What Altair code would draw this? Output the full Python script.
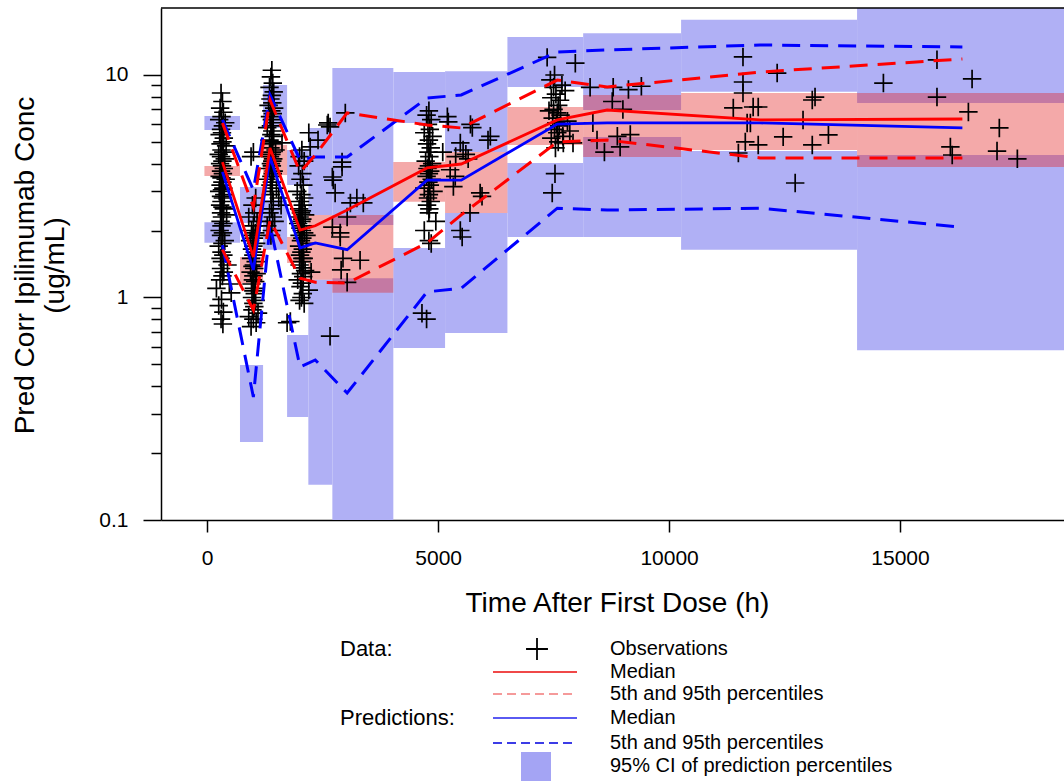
import altair as alt
import pandas as pd

FONT = "Liberation Sans"
PLUS = "M-1,0L1,0M0,-1L0,1"

# ---------------- data ----------------
# bins of the VPC (time after first dose, h)
bin_lo = [-60, 710, 1210, 1730, 2190, 2710, 4030, 5150, 6500, 8140, 10260, 14070]
bin_hi = [710, 1210, 1730, 2190, 2710, 4030, 5150, 6500, 8140, 10260, 14070, 19000]
# 95% CI of the predicted 95th percentile
p95_ci_lo = [5.66, 2.16, 5.78, 3.20, 2.35, 2.12, 6.09, 4.51, 8.83, 6.96, 8.40, 7.48]
p95_ci_hi = [6.54, 3.14, 9.02, 4.60, 5.78, 10.75, 10.31, 10.4, 14.8, 15.4, 17.7, 25.0]
# 95% CI of the predicted median
p50_ci_lo = [3.52, 1.16, 3.55, 1.43, 1.20, 1.05, 2.69, 2.40, 4.85, 4.28, 4.60, 3.86]
p50_ci_hi = [3.90, 1.52, 4.85, 1.87, 2.35, 2.35, 4.06, 4.51, 7.18, 8.13, 8.30, 8.30]
# 95% CI of the predicted 5th percentile
p05_ci_lo = [1.76, 0.224, 1.64, 0.290, 0.144, 0.05, 0.593, 0.692, 1.87, 1.87, 1.64, 0.58]
p05_ci_hi = [2.18, 0.497, 2.74, 0.678, 1.20, 1.22, 1.67, 2.40, 4.02, 5.27, 4.55, 4.37]

# percentile lines
line_time = [330, 1000, 1360, 2010, 2340, 3030, 4760, 5500, 7580, 8660, 11970, 16350]
obs_p50 = [4.06, 1.52, 4.70, 2.01, 2.10, 2.47, 3.82, 3.98, 6.28, 6.96, 6.28, 6.34]
obs_p95 = [6.09, 2.55, 7.72, 3.66, 4.37, 6.75, 5.96, 5.78, 9.49, 8.83, 10.31, 11.80]
obs_p05 = [1.64, 0.879, 2.23, 1.22, 1.17, 1.16, 1.76, 2.35, 5.00, 5.10, 4.24, 4.24]
pred_p50 = [3.67, 1.33, 4.28, 1.67, 1.76, 1.64, 3.37, 3.37, 6.02, 6.09, 6.09, 5.78]
pred_p95 = [6.28, 3.04, 8.13, 4.15, 4.28, 4.28, 7.88, 8.13, 12.69, 12.95, 13.64, 13.36]
pred_p05 = [1.72, 0.357, 2.12, 0.487, 0.524, 0.372, 1.06, 1.10, 2.52, 2.47, 2.52, 2.07]

# observations
c1_t = [300, 330, 280, 350, 310, 260, 390, 340, 300, 320, 270, 360, 330, 290, 410, 310, 350, 250,
        300, 380, 330, 280, 320, 360, 300, 340, 270, 310, 400, 330, 290, 350, 320, 260, 370, 300,
        340, 310, 280, 330, 360, 300, 420, 320, 290, 350, 310, 270, 340, 300, 380, 330, 250, 310,
        350, 290, 320, 440, 300, 360, 330, 280, 480, 200, 520, 310, 250, 350, 300, 340]
c1_c = [8.3, 7.6, 7.1, 6.8, 6.5, 6.3, 6.1, 5.9, 5.7, 5.5, 5.4, 5.2, 5.0, 4.9, 4.8, 4.6, 4.5, 4.4,
        4.3, 4.2, 4.1, 4.0, 3.9, 3.8, 3.7, 3.6, 3.5, 3.45, 3.4, 3.3, 3.2, 3.1, 3.05, 3.0, 2.9, 2.85,
        2.8, 2.7, 2.6, 2.55, 2.5, 2.4, 2.35, 2.3, 2.2, 2.15, 2.1, 2.0, 1.95, 1.9, 1.8, 1.75, 1.7, 1.6,
        1.55, 1.5, 1.45, 1.4, 1.35, 1.3, 1.25, 1.2, 1.15, 1.1, 1.05, 0.98, 0.92, 0.86, 0.80, 0.76]
c2_t = [1000, 950, 1050, 980, 1020, 900, 1080, 1000, 960, 1040, 990, 1010, 930, 1060, 1000, 970,
        1030, 1000, 950, 1050, 1010, 980, 1020, 940, 1070, 1000, 990, 1040, 960, 1010, 1000, 1030,
        970, 1050, 1000, 1020, 980, 1100, 900, 1000, 1060, 950]
c2_c = [4.5, 4.3, 2.8, 2.6, 2.4, 2.3, 2.2, 2.1, 2.0, 1.95, 1.9, 1.85, 1.8, 1.75, 1.7, 1.65, 1.6,
        1.55, 1.5, 1.45, 1.4, 1.38, 1.35, 1.3, 1.28, 1.25, 1.2, 1.18, 1.15, 1.1, 1.07, 1.04, 1.0,
        0.97, 0.94, 0.91, 0.88, 0.85, 0.82, 0.80, 0.77, 0.74]
c3_t = [1400, 1380, 1420, 1350, 1440, 1400, 1370, 1410, 1330, 1450, 1390, 1420, 1360, 1400, 1430,
        1380, 1300, 1410, 1390, 1440, 1350, 1400, 1420, 1370, 1480, 1400, 1390, 1360, 1430, 1410,
        1380, 1400, 1350, 1440, 1420, 1390, 1280, 1400, 1370, 1500, 1410, 1380, 1550, 1430, 1600,
        1390, 1350, 1420, 1460, 1300, 1400, 1380]
c3_c = [10.5, 9.8, 9.2, 8.8, 8.4, 8.1, 7.8, 7.5, 7.3, 7.1, 6.9, 6.7, 6.5, 6.3, 6.1, 5.9, 5.8, 5.6,
        5.4, 5.3, 5.1, 5.0, 4.9, 4.7, 4.6, 4.5, 4.4, 4.3, 4.2, 4.1, 4.0, 3.9, 3.8, 3.7, 3.6, 3.5,
        3.4, 3.3, 3.2, 3.1, 3.0, 2.9, 2.8, 2.7, 2.6, 2.5, 2.4, 2.3, 2.2, 2.1, 2.0, 1.9]
c4_t = [2050, 2000, 2100, 1980, 2060, 2020, 2080, 1950, 2040, 2100, 2010, 2070, 1990, 2050, 2030,
        2120, 2000, 2060, 2040, 1970, 2080, 2020, 2050, 2100, 2000, 2060, 2030, 2150, 1990, 2070,
        2040, 2010, 2090, 2050, 2000, 2060, 2120, 2030, 2080, 1960, 2050, 2020, 2200, 2070, 2040,
        2000, 2100, 2060, 2150, 2250]
c4_c = [4.6, 4.3, 4.1, 3.9, 3.6, 3.4, 3.2, 3.0, 2.9, 2.8, 2.7, 2.6, 2.5, 2.45, 2.4, 2.35, 2.3,
        2.25, 2.2, 2.15, 2.1, 2.05, 2.0, 1.95, 1.9, 1.85, 1.8, 1.75, 1.7, 1.65, 1.6, 1.55, 1.5,
        1.45, 1.4, 1.36, 1.32, 1.28, 1.24, 1.2, 1.16, 1.12, 1.08, 1.04, 1.0, 0.97, 0.94, 1.5, 1.9, 1.3]
s1_t = [2660, 2990, 2920, 2730, 3100, 3380, 2880, 2940, 3310, 3030, 2660, 1730, 2620, 3030, 2880,
        2770, 2600, 2710, 1800, 1620, 2710, 2920, 3240, 2200, 2230, 2400, 2900]
s1_c = [5.84, 6.75, 3.86, 3.37, 2.66, 2.66, 1.95, 1.50, 1.47, 1.17, 0.67, 0.77, 6.09, 2.30, 1.87,
        2.95, 5.96, 3.48, 0.78, 4.95, 2.07, 4.06, 2.80, 5.5, 4.75, 5.1, 1.33]
c5_t = [4800, 4750, 4850, 4780, 4820, 4700, 4880, 4800, 4760, 4840, 4790, 4810, 4730, 4870, 4800,
        4770, 4830, 4800, 4750, 4860, 4790, 4820, 4700, 4900, 4800, 4780, 4840, 4760, 4810, 4800,
        4950, 4700, 4800, 4850, 4650, 4750]
c5_c = [6.9, 6.6, 6.3, 6.0, 5.7, 5.5, 5.3, 5.1, 4.9, 4.7, 4.5, 4.3, 4.1, 4.0, 3.9, 3.8, 3.7, 3.6,
        3.5, 3.4, 3.3, 3.2, 3.1, 3.0, 2.9, 2.8, 2.7, 2.6, 2.5, 2.4, 2.2, 2.0, 1.8, 1.75, 0.85, 0.80]
s2_t = [5200, 5700, 6130, 5480, 5540, 5260, 5330, 5910, 5690, 5480, 5220, 5740, 6080, 5370, 5950,
        5520, 5600, 5650, 5100, 5380]
s2_c = [6.5, 6.0, 5.3, 4.95, 4.6, 3.75, 3.15, 2.95, 2.4, 2.0, 6.15, 5.8, 5.1, 3.5, 2.85, 1.87,
        4.4, 4.2, 4.5, 4.3]
c6_t = [7360, 7970, 7430, 7640, 7580, 7580, 7710, 7920, 7530, 7470, 7500, 7550, 7450, 7600, 7500,
        7650, 7480, 7560, 7620, 7520, 7700, 7450, 7600, 7800, 7400, 7540, 7680, 7520, 7750, 7850]
c6_c = [12.0, 11.3, 9.5, 7.7, 6.75, 5.5, 4.95, 4.95, 3.6, 2.95, 8.8, 8.2, 7.9, 7.3, 7.0, 6.6, 6.4,
        6.1, 5.9, 5.7, 5.3, 5.2, 5.0, 6.2, 6.9, 4.7, 9.0, 10.0, 8.5, 5.6]
s3_t = [8290, 8790, 9120, 8770, 8440, 8880, 9160, 8940, 8600, 9400, 8350, 9000,
        11600, 11600, 11600, 11930, 12340, 11760, 11650, 11930, 12470, 12900, 13100, 13160, 13100,
        13450, 12730, 11390, 11820, 11690, 11500,
        14640, 15800, 15800, 16560, 16480, 16090, 16130, 17150, 17100, 17540]
s3_c = [8.8, 8.8, 8.6, 7.6, 5.1, 5.3, 5.4, 4.75, 4.5, 8.9, 6.1, 7.0,
        12.05, 9.3, 8.3, 7.18, 10.2, 6.09, 5.0, 4.85, 5.27, 6.28, 7.72, 7.96, 4.85,
        5.38, 3.27, 7.11, 7.18, 6.09, 4.46,
        9.2, 11.7, 7.96, 9.6, 6.82, 4.75, 4.37, 5.78, 4.55, 4.2]

obs_time = c1_t + c2_t + c3_t + c4_t + s1_t + c5_t + s2_t + c6_t + s3_t
obs_conc = c1_c + c2_c + c3_c + c4_c + s1_c + c5_c + s2_c + c6_c + s3_c

legend_rows = ["Observations", "Median", "5th and 95th percentiles", "Median",
               "5th and 95th percentiles", "95% CI of prediction percentiles"]

# ---------------- tables ----------------
pi_rows = []
for i in range(len(bin_lo)):
    pi_rows.append({"t0": bin_lo[i], "t1": bin_hi[i], "lo": p95_ci_lo[i], "hi": p95_ci_hi[i]})
    pi_rows.append({"t0": bin_lo[i], "t1": bin_hi[i], "lo": p05_ci_lo[i], "hi": p05_ci_hi[i]})
df_pi = pd.DataFrame(pi_rows)
df_med = pd.DataFrame({"t0": bin_lo, "t1": bin_hi, "lo": p50_ci_lo, "hi": p50_ci_hi})

line_rows = []
for src, stat, arr in [("obs", "p50", obs_p50), ("obs", "p95", obs_p95), ("obs", "p05", obs_p05),
                       ("pred", "p50", pred_p50), ("pred", "p95", pred_p95), ("pred", "p05", pred_p05)]:
    for t, v in zip(line_time, arr):
        line_rows.append({"time": t, "conc": v, "src": src, "stat": stat})
df_lines = pd.DataFrame(line_rows)
df_obs = pd.DataFrame({"time": obs_time, "conc": obs_conc})
one = pd.DataFrame({"k": [0]})

# ---------------- scales / axes ----------------
W, H = 903, 512
x_scale = alt.Scale(domain=[-1000, 18550], nice=False, zero=False)
y_scale = alt.Scale(type="log", domain=[0.1, 20], nice=False)
Y_TICKS = [0.1, 0.2, 0.3, 0.4, 0.5, 0.6, 0.7, 0.8, 0.9, 1, 2, 3, 4, 5, 6, 7, 8, 9, 10]

x_axis = alt.Axis(
    title="Time After First Dose (h)", values=[0, 5000, 10000, 15000], format="d", grid=False,
    domainColor="black", domainWidth=1.5, tickColor="black", tickWidth=1.5, tickSize=12,
    labelFontSize=21, labelColor="black", labelPadding=15, labelFont=FONT,
    titleFont=FONT, titleFontSize=28, titleFontWeight="normal", titleColor="black",
    titleX=456, titleY=83, titleBaseline="middle", titleAlign="center")
y_axis = alt.Axis(
    title=["Pred Corr Ipilimumab Conc", "(ug/mL)"], values=Y_TICKS, grid=False,
    labelExpr="datum.value == 0.1 ? '0.1' : datum.value == 1 ? '1' : datum.value == 10 ? '10' : ''",
    labelOverlap=False, domainColor="black", domainWidth=1.5, tickColor="black", tickWidth=1.5,
    tickSize={"condition": {"test": "datum.value == 0.1 || datum.value == 1 || datum.value == 10",
                            "value": 18}, "value": 10},
    labelFontSize=21, labelColor="black", labelPadding=15, labelFont=FONT,
    titleFont=FONT, titleFontSize=28, titleFontWeight="normal", titleColor="black",
    titleAngle=270, titleX=-150, titleY=257, titleBaseline="top", titleAlign="center",
    titleLineHeight=30)


def X(f):
    return alt.X(f, type="quantitative", scale=x_scale, axis=x_axis)


def Y(f):
    return alt.Y(f, type="quantitative", scale=y_scale, axis=y_axis)


blue_rect = alt.Chart(df_pi).mark_rect(color="#b0b0f5", clip=True).encode(
    x=X("t0"), x2="t1", y=Y("hi"), y2="lo")
pink_rect = alt.Chart(df_med).mark_rect(color="#e42828", opacity=0.4, clip=True).encode(
    x=X("t0"), x2="t1", y=Y("hi"), y2="lo")
points = alt.Chart(df_obs).mark_point(shape=PLUS, filled=False, color="black", strokeWidth=1.7,
                                      size=340, opacity=1, clip=True).encode(x=X("time"), y=Y("conc"))


def line_layer(src, med, color):
    flt = "datum.src == '%s' && datum.stat %s 'p50'" % (src, "==" if med else "!=")
    if med:
        mk = alt.Chart(df_lines).transform_filter(flt).mark_line(color=color, strokeWidth=2.8, clip=True)
    else:
        mk = alt.Chart(df_lines).transform_filter(flt).mark_line(color=color, strokeWidth=3,
                                                                 strokeDash=[18, 10], clip=True)
    return mk.encode(x=X("time"), y=Y("conc"), detail="stat:N", order="time:Q")


top_rule = alt.Chart(one).mark_rule(color="black", strokeWidth=1.5).encode(
    x=alt.value(0), x2=alt.value(W), y=alt.value(0))


def ltext(txt, x, y, size=20):
    return alt.Chart(one).mark_text(text=txt, align="left", baseline="middle", fontSize=size,
                                    font=FONT, color="black").encode(x=alt.value(x), y=alt.value(y))


def lrule(y, color, dash=None):
    kw = {"color": color, "strokeWidth": 2.2}
    if dash:
        kw["strokeDash"] = dash
    return alt.Chart(one).mark_rule(**kw).encode(x=alt.value(332), x2=alt.value(416), y=alt.value(y))


rows_y = [641, 664, 686, 710, 735, 758]
legend = [
    ltext("Data:", 179, rows_y[0], 22),
    ltext("Predictions:", 179, rows_y[3], 22),
    alt.Chart(one).mark_point(shape=PLUS, filled=False, color="black", strokeWidth=1.8, size=480,
                              opacity=1).encode(x=alt.value(376), y=alt.value(rows_y[0])),
    lrule(rows_y[1], "#f04848"),
    lrule(rows_y[2], "#f59a9a", [9, 5]),
    lrule(rows_y[3], "#5a5af2"),
    lrule(rows_y[4], "#3c3ce6", [9, 5]),
    alt.Chart(one).mark_rect(color="#a4a4f4").encode(
        x=alt.value(360), x2=alt.value(390), y=alt.value(rows_y[5] - 14), y2=alt.value(rows_y[5] + 15)),
]
legend += [ltext(t, 449, y) for t, y in zip(legend_rows, rows_y)]

chart = alt.layer(
    blue_rect, pink_rect, points,
    line_layer("pred", True, "blue"), line_layer("pred", False, "blue"),
    line_layer("obs", True, "red"), line_layer("obs", False, "red"),
    top_rule, *legend
).properties(
    width=W, height=H,
    padding={"left": 161, "top": 8, "right": 0, "bottom": 262},
    autosize=alt.AutoSizeParams(type="none"),
).configure(font=FONT).configure_view(strokeWidth=0)

chart.save("out.html", embed_options={"renderer": "svg", "actions": False})
